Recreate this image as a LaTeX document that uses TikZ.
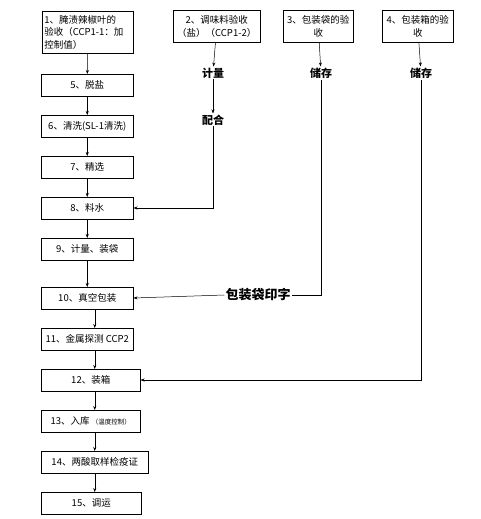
\documentclass[tikz,border=0pt]{standalone}
\usepackage{fontspec}
\setmainfont{Noto Sans CJK SC}
\usetikzlibrary{arrows.meta, positioning}
\tikzstyle{block} = [rectangle, draw=black, minimum height=21.5pt, inner sep=2pt, align=center, font=\fontsize{9.5}{12.5}\selectfont]
\tikzstyle{arrow} = [->, >={Stealth[length=4pt,width=3pt]}]
\tikzstyle{tag} = [inner sep=1pt, font=\fontsize{11}{12}\selectfont\bfseries]

\begin{document}
\begin{tikzpicture}[x=1pt, y=-1pt, line width=0.5pt]
  \useasboundingbox (0,0) rectangle (481,519);
  % Hàng trên: nguyên liệu
  \node[block, anchor=north west, text width=87pt, minimum height=42pt, align=left] (b1) at (42,11) {1、腌渍辣椒叶的\\验收（CCP1-1：加\\控制值）};
  \node[block, anchor=north west, minimum width=87pt, minimum height=32pt] (b2) at (173,10) {2、调味料验收\\（盐）（CCP1-2）};
  \node[block, anchor=north west, minimum width=70pt, minimum height=32pt] (b3) at (283,10) {3、包装袋的验\\收};
  \node[block, anchor=north west, minimum width=71pt, minimum height=32pt] (b4) at (382,10) {4、包装箱的验\\收};

  % Nhánh phụ
  \node[tag] (jl) at (213,73) {计量};
  \node[tag] (ph) at (213,120) {配合};
  \node[tag] (cc1) at (321,73) {储存};
  \node[tag] (cc2) at (421,73) {储存};

  % Cột chính
  \node[block, anchor=north west, minimum width=92pt] (b5) at (41,74) {5、脱盐};
  \node[block, minimum width=92pt, below=19pt of b5.south west, anchor=north west] (b6) {6、清洗(SL-1清洗)};
  \node[block, minimum width=92pt, below=19pt of b6.south west, anchor=north west] (b7) {7、精选};
  \node[block, minimum width=92pt, below=19pt of b7.south west, anchor=north west] (b8) {8、料水};
  \node[block, minimum width=92pt, below=19pt of b8.south west, anchor=north west] (b9) {9、计量、装袋};
  \node[block, minimum width=92pt, below=27pt of b9.south west, anchor=north west] (b10) {10、真空包装};
  \node[block, minimum width=92pt, below=19pt of b10.south west, anchor=north west] (b11) {11、金属探测 CCP2};
  \node[block, minimum width=99pt, below=19pt of b11.south west, anchor=north west] (b12) {12、装箱};
  \node[block, minimum width=99pt, below=19pt of b12.south west, anchor=north west] (b13) {13、入库 {\fontsize{6.5}{8}\selectfont（温度控制）}};
  \node[block, minimum width=107pt, below=19pt of b13.south west, anchor=north west] (b14) {14、两酸取样检疫证};
  \node[block, minimum width=100pt, below=19pt of b14.south west, anchor=north west] (b15) {15、调运};

  \node[tag, font=\fontsize{13}{14}\selectfont\bfseries] (yz) at (258,295) {包装袋印字};

  % Mũi tên cột chính
  \draw[arrow] (b1) -- (b5);
  \draw[arrow] (b5) -- (b6);
  \draw[arrow] (b6) -- (b7);
  \draw[arrow] (b7) -- (b8);
  \draw[arrow] (b8) -- (b9);
  \draw[arrow] (b9) -- (b10);
  \draw[arrow] (b10.south -| b14.north) -- (b11.north -| b14.north);
  \draw[arrow] (b11.south -| b14.north) -- (b12.north -| b14.north);
  \draw[arrow] (b12.south -| b14.north) -- (b13.north -| b14.north);
  \draw[arrow] (b13.south -| b14.north) -- (b14.north);
  \draw[arrow] (b14.south) -- (b15.north -| b14.south);

  % Mũi tên nhánh phụ
  \draw[arrow] (b2) -- (jl);
  \draw[arrow] (jl) -- (ph);
  \draw[arrow] (ph.south) |- (b8.east);
  \draw[arrow] (b3) -- (cc1);
  \draw (cc1.south) |- (yz.east);
  \draw[arrow] (yz.west) -- (b10.east);
  \draw[arrow] (b4) -- (cc2);
  \draw[arrow] (cc2.south) |- (b12.east);
\end{tikzpicture}
\end{document}
